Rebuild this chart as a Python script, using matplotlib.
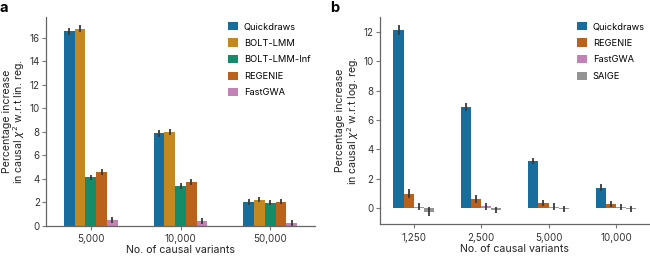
import matplotlib
matplotlib.use("Agg")
import matplotlib.pyplot as plt
import numpy as np
import seaborn as sns

plt.rcParams['font.family'] = ['Inter', 'DejaVu Sans']
plt.rcParams['mathtext.fontset'] = 'dejavusans'

# Panel a data
cats_a = ["5,000", "10,000", "50,000"]
methods_a = ["Quickdraws", "BOLT-LMM", "BOLT-LMM-Inf", "REGENIE", "FastGWA"]
vals_a = {
    "Quickdraws":   [16.55, 7.85, 2.00],
    "BOLT-LMM":     [16.75, 8.00, 2.20],
    "BOLT-LMM-Inf": [4.10, 3.40, 1.95],
    "REGENIE":      [4.55, 3.70, 2.05],
    "FastGWA":      [0.50, 0.42, 0.25],
}
err_a = {
    "Quickdraws":   [0.30, 0.30, 0.25],
    "BOLT-LMM":     [0.30, 0.25, 0.20],
    "BOLT-LMM-Inf": [0.25, 0.25, 0.22],
    "REGENIE":      [0.25, 0.25, 0.20],
    "FastGWA":      [0.25, 0.25, 0.25],
}

# Panel b data
cats_b = ["1,250", "2,500", "5,000", "10,000"]
methods_b = ["Quickdraws", "REGENIE", "FastGWA", "SAIGE"]
vals_b = {
    "Quickdraws": [12.13, 6.88, 3.20, 1.40],
    "REGENIE":    [0.98, 0.62, 0.35, 0.28],
    "FastGWA":    [0.10, 0.12, 0.10, 0.08],
    "SAIGE":      [-0.25, -0.12, -0.08, -0.05],
}
err_b = {
    "Quickdraws": [0.32, 0.30, 0.22, 0.25],
    "REGENIE":    [0.30, 0.28, 0.22, 0.20],
    "FastGWA":    [0.25, 0.25, 0.22, 0.22],
    "SAIGE":      [0.30, 0.22, 0.20, 0.22],
}

pal = sns.color_palette("colorblind", desat=0.75)
colors = {
    "Quickdraws": pal[0], "BOLT-LMM": pal[1], "BOLT-LMM-Inf": pal[2],
    "REGENIE": pal[3], "FastGWA": pal[4], "SAIGE": pal[7],
}

fig = plt.figure(figsize=(6.5, 2.59), dpi=100)
ax_a = fig.add_axes([0.0708, 0.1286, 0.4138, 0.8056])
ax_b = fig.add_axes([0.5846, 0.134, 0.4148, 0.800])

def draw(ax, cats, methods, vals, errs, total_w=0.6):
    n = len(methods)
    w = total_w / n
    x = np.arange(len(cats))
    for i, m in enumerate(methods):
        off = -total_w / 2 + w * (i + 0.5)
        ax.bar(x + off, vals[m], width=w, color=colors[m], label=m,
               yerr=errs[m], error_kw=dict(ecolor='#3a3a3a', elinewidth=1.3, capsize=0))
    ax.set_xticks(x)
    ax.set_xticklabels(cats)
    for s in ['top', 'right']:
        ax.spines[s].set_visible(False)
    for s in ['left', 'bottom']:
        ax.spines[s].set_color('#666666')
        ax.spines[s].set_linewidth(0.9)
    ax.tick_params(labelsize=7, labelcolor='#333333', color='#777777', length=3, width=0.8)
    ax.tick_params(axis='y', pad=1.5)
    ax.tick_params(axis='x', pad=3)
    ax.set_xlabel("No. of causal variants", fontsize=7.6, color='#222222', labelpad=1.0)
    ax.legend(loc='upper right', frameon=False, fontsize=6.7, handlelength=1.0,
              handleheight=1.0, handletextpad=0.65, labelspacing=0.78,
              borderaxespad=0.1)

draw(ax_a, cats_a, methods_a, vals_a, err_a)
ax_a.set_xlim(-0.5, 2.5)
ax_a.set_ylim(0, 17.75)
ax_a.set_yticks(np.arange(0, 17, 2))
ax_a.set_ylabel("Percentage increase\nin causal $\\chi^2$ w.r.t lin. reg.", fontsize=7.6,
                color='#222222', linespacing=1.0, labelpad=1.5)

draw(ax_b, cats_b, methods_b, vals_b, err_b)
ax_b.set_xlim(-0.5, 3.5)
ax_b.set_ylim(-1.1, 13.0)
ax_b.set_yticks(np.arange(0, 13, 2))
ax_b.set_ylabel("Percentage increase\nin causal $\\chi^2$ w.r.t log. reg.", fontsize=7.6,
                color='#222222', linespacing=1.0, labelpad=2)

fig.text(0.0, 0.998, "a", fontsize=10.5, fontweight='bold', va='top', ha='left')
fig.text(0.508, 0.998, "b", fontsize=10.5, fontweight='bold', va='top', ha='left')

fig.savefig("out.png", dpi=100)
